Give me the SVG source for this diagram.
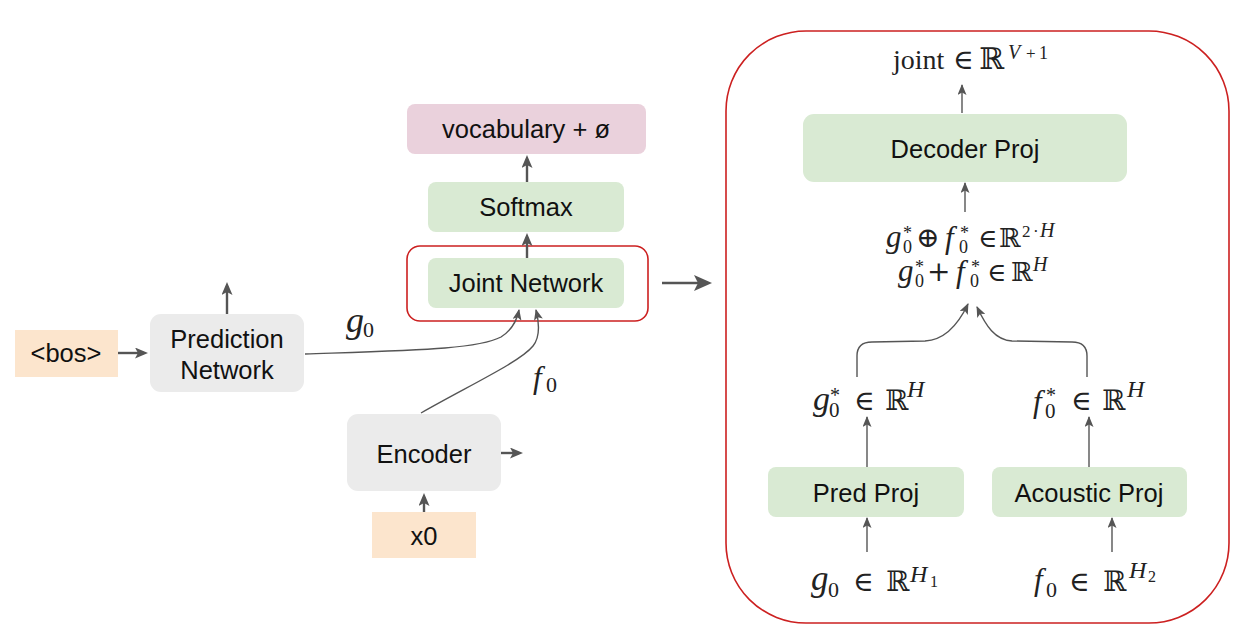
<svg xmlns="http://www.w3.org/2000/svg" width="1251" height="644" viewBox="0 0 1251 644">
<style>
.t{font-family:"Liberation Sans",Arial,sans-serif;font-size:25.5px;fill:#111;text-anchor:middle}
.m{font-family:"Liberation Serif","DejaVu Serif",serif;fill:#222}
.i{font-style:italic}
.s{font-family:"DejaVu Serif","Liberation Serif",serif}
.peach{fill:#fce5cd}
.gray{fill:#ebebeb}
.green{fill:#d9ead3}
.pink{fill:#ead1dc}
.red{fill:none;stroke:#cc2020;stroke-width:1.6}
.c{fill:none;stroke:#555;stroke-width:2.4}
.cs{fill:none;stroke:#555;stroke-width:1.4}
</style>
<defs>
<marker id="ah" markerUnits="userSpaceOnUse" markerWidth="13" markerHeight="11" refX="9" refY="5.5" orient="auto">
<path d="M0,0 L13,5.5 L0,11 L3,5.5 z" fill="#555"/>
</marker>
<marker id="ahs" markerUnits="userSpaceOnUse" markerWidth="11" markerHeight="9" refX="10" refY="4.5" orient="auto">
<path d="M0,0 L11,4.5 L0,9 L2.5,4.5 z" fill="#555"/>
</marker>
<marker id="ahb" markerUnits="userSpaceOnUse" markerWidth="18" markerHeight="16" refX="12" refY="8" orient="auto">
<path d="M0,0 L18,8 L0,16 L4,8 z" fill="#555"/>
</marker>
</defs>

<g id="bos"><rect class="peach" x="15" y="330" width="103" height="47"/><text class="t" x="66" y="362">&lt;bos&gt;</text></g>
<g id="prediction-network"><rect class="gray" x="150" y="314" width="154" height="78" rx="11"/><text class="t" x="227" y="348">Prediction</text><text class="t" x="227" y="379">Network</text></g>
<g id="encoder"><rect class="gray" x="347" y="414" width="154" height="77" rx="11"/><text class="t" x="424" y="463">Encoder</text></g>
<g id="x0"><rect class="peach" x="372" y="512" width="104" height="46"/><text class="t" x="424" y="545">x0</text></g>
<g id="joint-highlight"><rect class="red" x="407" y="246" width="241" height="75" rx="13"/></g>
<g id="joint-network"><rect class="green" x="428" y="258" width="196" height="50" rx="8"/><text class="t" x="526" y="292">Joint Network</text></g>
<g id="softmax"><rect class="green" x="428" y="182" width="196" height="50" rx="8"/><text class="t" x="526" y="216">Softmax</text></g>
<g id="vocabulary"><rect class="pink" x="407" y="104" width="239" height="50" rx="8"/><text class="t" x="526" y="138">vocabulary + ø</text></g>

<g id="g0-label"><text class="m"><tspan class="i" x="346" y="332" font-size="36">g</tspan><tspan x="363" y="337" font-size="22">0</tspan></text></g>
<g id="f0-label"><text class="m"><tspan class="i" x="533" y="388" font-size="31">f</tspan><tspan x="546" y="392" font-size="22">0</tspan></text></g>

<g id="joint-detail"><rect class="red" x="726" y="31" width="503" height="592" rx="80"/></g>
<g id="decoder-proj"><rect class="green" x="803" y="114" width="324" height="68" rx="11"/><text class="t" x="965" y="158">Decoder Proj</text></g>
<g id="pred-proj"><rect class="green" x="768" y="467" width="196" height="50" rx="8"/><text class="t" x="866" y="502">Pred Proj</text></g>
<g id="acoustic-proj"><rect class="green" x="992" y="467" width="195" height="50" rx="8"/><text class="t" x="1089" y="502">Acoustic Proj</text></g>

<g id="joint-out"><text class="m"><tspan x="893" y="69" font-size="28">joint</tspan><tspan class="s" x="953" y="69" font-size="28">∈</tspan><tspan class="s" x="979" y="69" font-size="30">ℝ</tspan><tspan class="i" x="1008" y="59" font-size="20">V</tspan><tspan x="1026" y="59" font-size="17">+</tspan><tspan x="1039" y="59" font-size="18">1</tspan></text></g>
<g id="concat"><text class="m"><tspan class="i" x="886" y="247" font-size="31">g</tspan><tspan x="903" y="253" font-size="18">0</tspan><tspan x="903" y="239" font-size="18">*</tspan><tspan class="s" x="916" y="247" font-size="28">⊕</tspan><tspan class="i" x="945" y="248" font-size="31">f</tspan><tspan x="959" y="253" font-size="18">0</tspan><tspan x="960" y="239" font-size="18">*</tspan><tspan class="s" x="978" y="247" font-size="26">∈</tspan><tspan class="s" x="999" y="247" font-size="26">ℝ</tspan><tspan x="1022" y="237" font-size="17">2</tspan><tspan x="1033" y="237" font-size="17">·</tspan><tspan class="i" x="1040" y="237" font-size="20">H</tspan></text></g>
<g id="sum"><text class="m"><tspan class="i" x="898" y="281" font-size="31">g</tspan><tspan x="915" y="287" font-size="18">0</tspan><tspan x="915" y="273" font-size="18">*</tspan><tspan class="s" x="927" y="281" font-size="28">+</tspan><tspan class="i" x="956" y="282" font-size="31">f</tspan><tspan x="970" y="287" font-size="18">0</tspan><tspan x="971" y="273" font-size="18">*</tspan><tspan class="s" x="987" y="281" font-size="26">∈</tspan><tspan class="s" x="1011" y="281" font-size="26">ℝ</tspan><tspan class="i" x="1033" y="271" font-size="20">H</tspan></text></g>
<g id="g0-star"><text class="m"><tspan class="i" x="813" y="410" font-size="34">g</tspan><tspan x="829" y="417" font-size="21">0</tspan><tspan x="830" y="402" font-size="20">*</tspan><tspan class="s" x="854" y="410" font-size="28">∈</tspan><tspan class="s" x="885" y="410" font-size="28">ℝ</tspan><tspan class="i" x="907" y="397" font-size="24">H</tspan></text></g>
<g id="f0-star"><text class="m"><tspan class="i" x="1033" y="412" font-size="31">f</tspan><tspan x="1045" y="418" font-size="21">0</tspan><tspan x="1046" y="402" font-size="20">*</tspan><tspan class="s" x="1071" y="410" font-size="28">∈</tspan><tspan class="s" x="1102" y="410" font-size="28">ℝ</tspan><tspan class="i" x="1127" y="397" font-size="24">H</tspan></text></g>
<g id="g0-in"><text class="m"><tspan class="i" x="811" y="590" font-size="35">g</tspan><tspan x="828" y="597" font-size="22">0</tspan><tspan class="s" x="853" y="591" font-size="28">∈</tspan><tspan class="s" x="886" y="591" font-size="28">ℝ</tspan><tspan class="i" x="910" y="582" font-size="24">H</tspan><tspan x="930" y="587" font-size="16">1</tspan></text></g>
<g id="f0-in"><text class="m"><tspan class="i" x="1034" y="590" font-size="31">f</tspan><tspan x="1046" y="597" font-size="22">0</tspan><tspan class="s" x="1069" y="591" font-size="28">∈</tspan><tspan class="s" x="1103" y="591" font-size="28">ℝ</tspan><tspan class="i" x="1129" y="578" font-size="24">H</tspan><tspan x="1148" y="582" font-size="16">2</tspan></text></g>

<g id="connectors">
<path class="c" d="M118,353 H144" marker-end="url(#ah)"/>
<path class="c" d="M227,314 V286" marker-end="url(#ah)"/>
<path class="c" d="M501,453 H519" marker-end="url(#ah)"/>
<path class="c" d="M424,512 V497" marker-end="url(#ah)"/>
<path class="c" d="M527,258 V237" marker-end="url(#ah)"/>
<path class="c" d="M527,182 V159" marker-end="url(#ah)"/>
<path class="c" d="M662,283 H706" stroke-width="4" marker-end="url(#ahb)"/>
<path class="cs" d="M305,354 C420,350 478,349 501,337 C512,330 517,320 519,310" marker-end="url(#ahs)"/>
<path class="cs" d="M421,413 C470,385 520,362 533,346 C541,336 539,322 536,310" marker-end="url(#ahs)"/>
<path class="cs" d="M962,113 V85" marker-end="url(#ahs)"/>
<path class="cs" d="M965,212 V183" marker-end="url(#ahs)"/>
<path class="cs" d="M867,467 V417" marker-end="url(#ahs)"/>
<path class="cs" d="M1089,467 V417" marker-end="url(#ahs)"/>
<path class="cs" d="M867,552 V518" marker-end="url(#ahs)"/>
<path class="cs" d="M1112,552 V518" marker-end="url(#ahs)"/>
<path class="cs" d="M857,377 V356 Q857,342 872,342 L925,341 C945,340 958,325 968,304" marker-end="url(#ahs)"/>
<path class="cs" d="M1087,377 V356 Q1087,342 1072,342 L1012,341 C995,340 986,326 977,307" marker-end="url(#ahs)"/>
</g>
</svg>
